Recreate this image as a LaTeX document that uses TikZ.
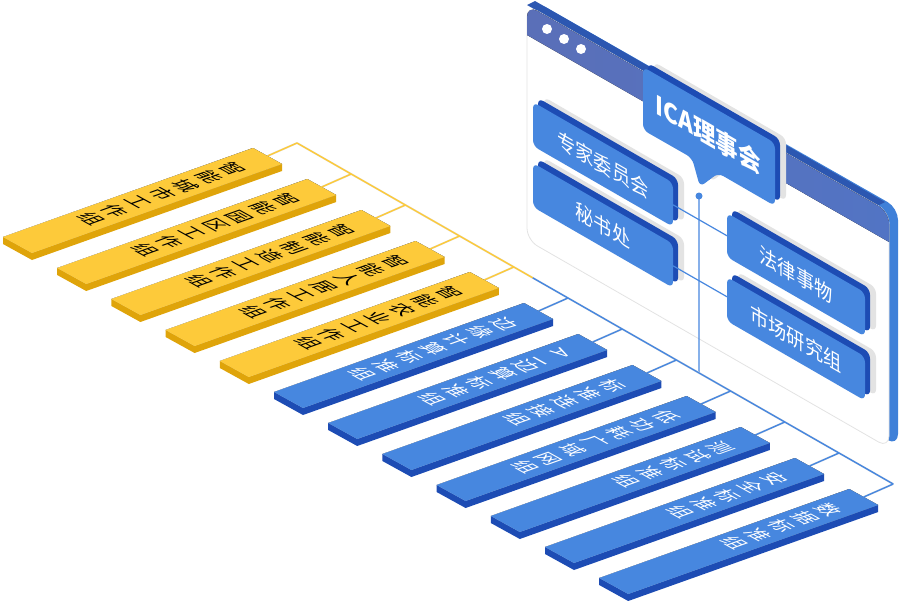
\documentclass[tikz,border=0pt]{standalone}
\usepackage{fontspec}
\setmainfont{Noto Sans CJK SC}
\usetikzlibrary{calc}
\definecolor{barYellow}{HTML}{FDCA3A}
\definecolor{barYellowSide}{HTML}{DFA40A}
\definecolor{barBlue}{HTML}{4787DF}
\definecolor{barBlueSide}{HTML}{1D4CB4}
\definecolor{boardRim}{HTML}{2C57B1}
\definecolor{boardSide}{HTML}{3F80D8}
\definecolor{titleLeft}{HTML}{5A6FB8}
\definecolor{titleRight}{HTML}{5274C4}
\definecolor{shade}{HTML}{E3E3E3}
\tikzset{
    bar-text/.style = {inner sep=0pt, align=center, anchor=north, font=\fontsize{20}{25}\selectfont, cm={0.875,-0.483,0.942,0.336,(0,0)}},
    bar-text-yl/.style = {bar-text, text=black},
    bar-text-bl/.style = {bar-text, text=white},
    bar-top-yl/.style = {fill=barYellow},
    bar-top-bl/.style = {fill=barBlue},
    bar-side-yl/.style = {fill=barYellowSide},
    bar-side-bl/.style = {fill=barBlueSide},
    board-text/.style = {inner sep=0pt, text=white, font=\fontsize{21}{24}\selectfont, cm={0.866,-0.5,0,1,(0,0)}},
    board-box-shadow/.style = {fill=shade, rounded corners=6pt, shift={(11,-5)}},
    board-box-back/.style = {fill=barBlueSide, rounded corners=6pt, shift={(5,-4)}},
    board-box/.style = {fill=barBlue, rounded corners=6pt},
    wire-yl/.style = {draw=barYellow, line width=1.4pt},
    wire-bl/.style = {draw=barBlue, line width=1.4pt},
    wire-shadow/.style = {draw=shade, line width=2pt, shift={(2,-3)}},
}
\newcommand{\boardbox}[5]{%
  \fill[board-box-shadow] (#1,#2) -- ++(#3,{#3*0.577}) -- ++(0,#4) -- ++(-#3,{-#3*0.577}) -- cycle;
  \fill[board-box-back] (#1,#2) -- ++(#3,{#3*0.577}) -- ++(0,#4) -- ++(-#3,{-#3*0.577}) -- cycle;
  \fill[board-box] (#1,#2) -- ++(#3,{#3*0.577}) -- ++(0,#4) -- ++(-#3,{-#3*0.577}) -- cycle;
  \coordinate (#5-w) at (#1,{#2+#4/2});
  \coordinate (#5-e) at ({#1+#3},{#2+#3*0.577+#4/2});
  \coordinate (#5-c) at ({#1+#3/2},{#2+#3*0.2885+#4/2});
}

\begin{document}
\begin{tikzpicture}[x=1pt, y=-1pt]
\useasboundingbox (0,0) rectangle (920,600);

% board
\fill[boardSide, rounded corners=12pt] (535,1) -- (898,208) -- (898,446) -- (535,240) -- cycle;
\fill[boardRim] (527,5) -- (535,1) -- (885,202) -- (877,206) -- cycle;
\filldraw[fill=white, draw=shade, line width=0.8pt, rounded corners=12pt] (527,5) -- (889,212) -- (889,448) -- (527,240) -- cycle;
\begin{scope}
  \clip[rounded corners=12pt] (527,5) -- (889,212) -- (889,448) -- (527,240) -- cycle;
  \fill[left color=titleLeft, right color=titleRight] (527,5) -- (889,212) -- (889,242) -- (527,35) -- cycle;
\end{scope}
\foreach \d/\x/\y in {1/547/29, 2/564/39, 3/581/49}
  \fill[white] (\x,\y) coordinate (dot\d) circle (5pt);

% boxes on the board
\boardbox{533}{102}{140}{44}{zj}
\boardbox{533}{163}{140}{44}{ms}
\draw[wire-bl, line width=1.2pt] (zj-e) -- ++(54,31) coordinate (fl-link);
\draw[wire-bl, line width=1.2pt] (ms-e) -- ++(54,31) coordinate (sc-link);
\boardbox{727}{213}{138}{44}{fl}
\boardbox{727}{277}{138}{44}{sc}
\node[board-text] (zj) at (zj-c) {专家委员会};
\node[board-text] (ms) at (ms-c) {秘书处};
\node[board-text] (fl) at (fl-c) {法律事物};
\node[board-text] (sc) at (sc-c) {市场研究组};

% council bubble
\fill[fill=shade, rounded corners=6pt, shift={(11,-5)}] (643,67) -- (775,143) -- (775,206) -- (718,173) -- (700,187) -- (692,158) -- (643,130) -- cycle;
\fill[fill=barBlueSide, rounded corners=6pt, shift={(5,-4)}] (643,67) -- (775,143) -- (775,206) -- (718,173) -- (700,187) -- (692,158) -- (643,130) -- cycle;
\fill[fill=barBlue, rounded corners=6pt] (643,67) -- (775,143) -- (775,206) -- (718,173) -- (700,187) -- (692,158) -- (643,130) -- cycle;
\node[board-text, font=\fontsize{26}{30}\selectfont\bfseries] (ica) at (708,134) {ICA理事会};

% bar positions
\foreach \k in {1,...,12}{
  \coordinate (B\k) at ({253+54.2*(\k-1)},{148+31*(\k-1)});
  \coordinate (C\k) at ($(B\k)+(29,16)$);
  \coordinate (A\k) at ($(B\k)+(-250,89)$);
  \coordinate (D\k) at ($(A\k)+(29,16)$);
  \coordinate (R\k) at ($(B\k)!0.5!(C\k)$);
  \coordinate (T\k) at ({297+54.2*(\k-1)},{143+31*(\k-1)});
}
\coordinate (split) at ($(T5)!0.35!(T6)$);
\coordinate (foot) at ($(T8)!0.417!(T9)$);

% stem from the council
\coordinate (hub) at (699,196);
\draw[wire-bl, line width=1.3pt] (hub) -- (foot);
\fill[barBlue] (hub) circle (3.5pt);

% shadows
\draw[wire-shadow] (T1) -- (T12);
\foreach \k in {1,...,12}{
  \draw[wire-shadow] (R\k) -- (T\k);
  \fill[shade, shift={(6,-3)}] (A\k) -- (B\k) -- (C\k) -- (D\k) -- cycle;
}

% trunk and branches
\draw[wire-yl] (T1) -- (split);
\draw[wire-bl] (split) -- (T12);
\foreach \k in {1,...,5}
  \draw[wire-yl] (R\k) -- (T\k);
\foreach \k in {6,...,12}
  \draw[wire-bl] (R\k) -- (T\k);

% bars
\foreach \k/\kind/\lbl in {
  1/yl/{智\\能\\城\\市\\工\\作\\组},
  2/yl/{智\\能\\园\\区\\工\\作\\组},
  3/yl/{智\\能\\制\\造\\工\\作\\组},
  4/yl/{智\\能\\人\\居\\工\\作\\组},
  5/yl/{智\\能\\农\\业\\工\\作\\组},
  6/bl/{边\\缘\\计\\算\\标\\准\\组},
  7/bl/{\rotatebox{-90}{A}\\\rotatebox{-90}{I}\\边\\算\\标\\准\\组},
  8/bl/{标\\准\\连\\接\\组},
  9/bl/{低\\功\\耗\\广\\域\\网\\组},
  10/bl/{测\\试\\标\\准\\组},
  11/bl/{安\\全\\标\\准\\组},
  12/bl/{数\\据\\标\\准\\组}}{
  \fill[bar-side-\kind] (A\k) -- (D\k) -- (C\k) -- ++(0,7) -- ($(D\k)+(0,7)$) -- ($(A\k)+(0,7)$) -- cycle;
  \fill[bar-top-\kind] (A\k) -- (B\k) -- (C\k) -- (D\k) -- cycle;
  \node[bar-text-\kind] (lbl\k) at ($(R\k)+(-26,9.3)$) {\lbl};
}
\end{tikzpicture}
\end{document}
